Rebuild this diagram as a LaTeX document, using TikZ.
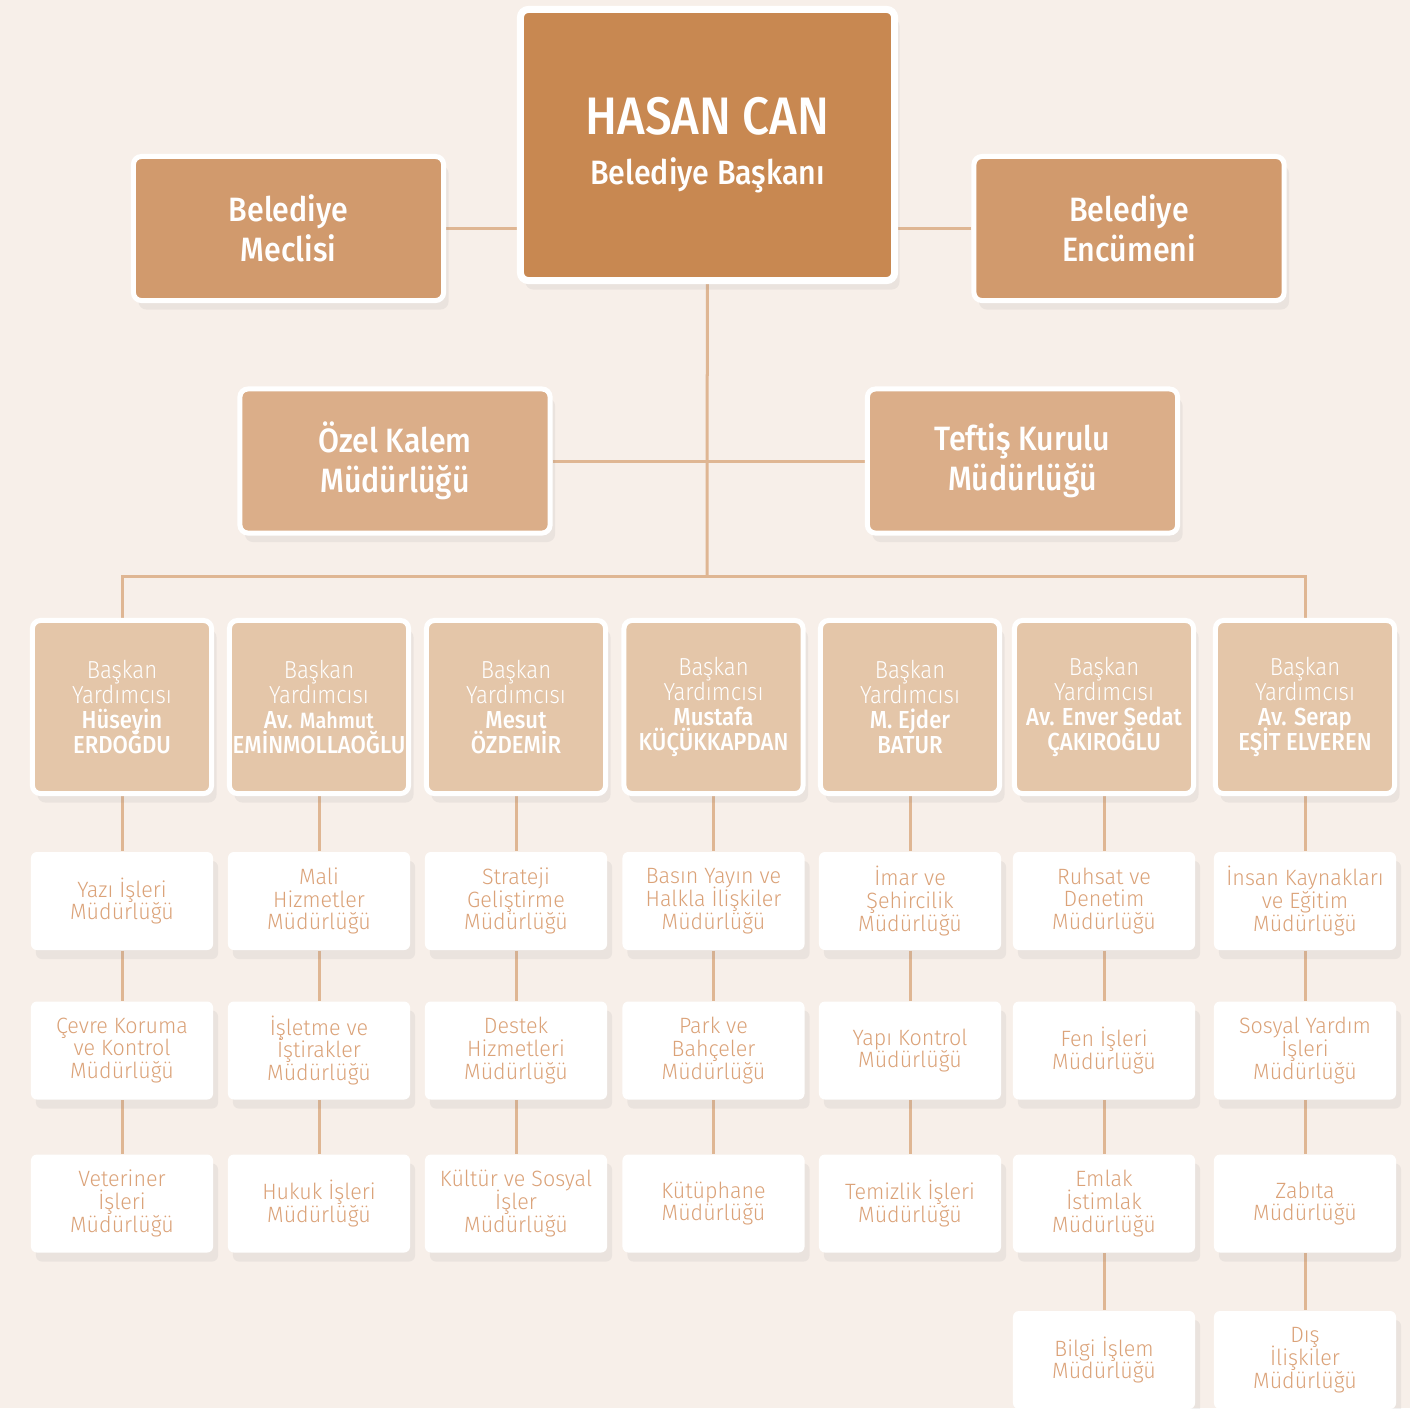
\documentclass[tikz,border=0pt]{standalone}
\usepackage{fontspec}
\setmainfont{Fira Sans}[FakeStretch=0.9,BoldFont={Fira Sans Medium}]
\newfontfamily\lightfont{Fira Sans Light}[FakeStretch=0.9]
\newfontfamily\unitfont{Fira Sans Light}[FakeStretch=0.97]
\usetikzlibrary{backgrounds,
	shadows}
\setlength{\lineskiplimit}{-10pt}

\definecolor{paper}{HTML}{F7EFE9}
\definecolor{headcol}{HTML}{C88851}
\definecolor{boardcol}{HTML}{D19A6D}
\definecolor{officecol}{HTML}{DBAE89}
\definecolor{deputycol}{HTML}{E4C6A9}
\definecolor{linkcol}{HTML}{DFB693}
\definecolor{unittext}{HTML}{DBA278}

\newcommand{\vpname}[1]{{\normalfont\bfseries #1}}

\begin{document}
\begin{tikzpicture}[x=0.01cm,y=-0.01cm]
      \tikzstyle{box}=[rectangle,rounded corners=0.8mm,align=center,inner sep=0pt,
        drop shadow={shadow xshift=0.5mm,shadow yshift=-0.9mm,opacity=0.10}]
      \tikzstyle{head}=[box,fill=headcol,draw=white,line width=0.7mm,text=white,
        minimum width=37.4mm,minimum height=27.1mm,font=\bfseries\fontsize{9.6}{14.2}\selectfont]
      \tikzstyle{board}=[box,fill=boardcol,draw=white,line width=0.5mm,text=white,
        minimum width=31mm,minimum height=14.4mm,font=\bfseries\fontsize{9.6}{11.4}\selectfont]
      \tikzstyle{office}=[board,fill=officecol]
      \tikzstyle{deputy}=[box,fill=deputycol,draw=white,line width=0.5mm,text=white,
        minimum width=17.9mm,minimum height=17.3mm,font=\lightfont\fontsize{7}{7.1}\selectfont]
      \tikzstyle{unit}=[box,fill=white,text=unittext,rounded corners=0.6mm,
        minimum width=18.2mm,minimum height=9.8mm,font=\unitfont\fontsize{6.3}{6.45}\selectfont]
      \tikzstyle{link}=[draw=linkcol,line width=0.3mm]
      \useasboundingbox (0,0) rectangle (1410,1408);
      % top
      \node[head] (mayor) at (707.5,145) {{\fontsize{15}{14.2}\selectfont HASAN CAN}\\Belediye Başkanı};
      \node[board] (council) at (288.5,228.5) {Belediye\\Meclisi};
      \node[board] (committee) at (1129,228.5) {Belediye\\Encümeni};
      \node[office] (privoffice) at (395,461) {Özel Kalem\\Müdürlüğü};
      \node[office] (inspection) at (1022.5,461) {Teftiş Kurulu\\Müdürlüğü};
      \coordinate (bus) at (707,576);
      % deputies
      \node[deputy] (vp_1) at (122,707) {Başkan\\Yardımcısı\\\vpname{Hüseyin}\\\vpname{ERDOĞDU}};
      \node[deputy] (vp_2) at (319,707) {Başkan\\Yardımcısı\\\vpname{Av. {\fontsize{6.3}{7.1}\selectfont Mahmut}}\\\vpname{EMİNMOLLAOĞLU}};
      \node[deputy] (vp_3) at (516,707) {Başkan\\Yardımcısı\\\vpname{Mesut}\\\vpname{ÖZDEMİR}};
      \node[deputy] (vp_4) at (713.5,707) {Başkan\\Yardımcısı\\\vpname{Mustafa}\\\vpname{KÜÇÜKKAPDAN}};
      \node[deputy] (vp_5) at (910,707) {Başkan\\Yardımcısı\\\vpname{M. Ejder}\\\vpname{BATUR}};
      \node[deputy] (vp_6) at (1104,707) {Başkan\\Yardımcısı\\\vpname{Av. Enver Sedat}\\\vpname{ÇAKIROĞLU}};
      \node[deputy] (vp_7) at (1305,707) {Başkan\\Yardımcısı\\\vpname{Av. Serap}\\\vpname{EŞİT ELVEREN}};
      % units
      \node[unit] (u_1a) at (122,901) {Yazı İşleri\\Müdürlüğü};
      \node[unit] (u_1b) at (122,1050.5) {Çevre Koruma\\ve Kontrol\\Müdürlüğü};
      \node[unit] (u_1c) at (122,1203.5) {Veteriner\\İşleri\\Müdürlüğü};
      \node[unit] (u_2a) at (319,901) {Mali\\Hizmetler\\Müdürlüğü};
      \node[unit] (u_2b) at (319,1050.5) {İşletme ve\\İştirakler\\Müdürlüğü};
      \node[unit] (u_2c) at (319,1203.5) {Hukuk İşleri\\Müdürlüğü};
      \node[unit] (u_3a) at (516,901) {Strateji\\Geliştirme\\Müdürlüğü};
      \node[unit] (u_3b) at (516,1050.5) {Destek\\Hizmetleri\\Müdürlüğü};
      \node[unit] (u_3c) at (516,1203.5) {Kültür ve Sosyal\\İşler\\Müdürlüğü};
      \node[unit] (u_4a) at (713.5,901) {Basın Yayın ve\\Halkla İlişkiler\\Müdürlüğü};
      \node[unit] (u_4b) at (713.5,1050.5) {Park ve\\Bahçeler\\Müdürlüğü};
      \node[unit] (u_4c) at (713.5,1203.5) {Kütüphane\\Müdürlüğü};
      \node[unit] (u_5a) at (910,901) {İmar ve\\Şehircilik\\Müdürlüğü};
      \node[unit] (u_5b) at (910,1050.5) {Yapı Kontrol\\Müdürlüğü};
      \node[unit] (u_5c) at (910,1203.5) {Temizlik İşleri\\Müdürlüğü};
      \node[unit] (u_6a) at (1104,901) {Ruhsat ve\\Denetim\\Müdürlüğü};
      \node[unit] (u_6b) at (1104,1050.5) {Fen İşleri\\Müdürlüğü};
      \node[unit] (u_6c) at (1104,1203.5) {Emlak\\İstimlak\\Müdürlüğü};
      \node[unit] (u_6d) at (1104,1360) {Bilgi İşlem\\Müdürlüğü};
      \node[unit] (u_7a) at (1305,901) {İnsan Kaynakları\\ve Eğitim\\Müdürlüğü};
      \node[unit] (u_7b) at (1305,1050.5) {Sosyal Yardım\\İşleri\\Müdürlüğü};
      \node[unit] (u_7c) at (1305,1203.5) {Zabıta\\Müdürlüğü};
      \node[unit] (u_7d) at (1305,1360) {Dış\\İlişkiler\\Müdürlüğü};
      \begin{pgfonlayer}{background}
        \fill[paper] (0,0) rectangle (1410,1408);
        \draw[link] (council.east) -- (council.east -| mayor.west);
        \draw[link] (committee.west) -- (committee.west -| mayor.east);
        \draw[link] (privoffice) -- (inspection);
        \draw[link] (mayor) -- (bus);
        \draw[link] (vp_1) |- (bus) -| (vp_7);
        \draw[link] (vp_1) -- (u_1a) -- (u_1b) -- (u_1c);
        \draw[link] (vp_2) -- (u_2a) -- (u_2b) -- (u_2c);
        \draw[link] (vp_3) -- (u_3a) -- (u_3b) -- (u_3c);
        \draw[link] (vp_4) -- (u_4a) -- (u_4b) -- (u_4c);
        \draw[link] (vp_5) -- (u_5a) -- (u_5b) -- (u_5c);
        \draw[link] (vp_6) -- (u_6a) -- (u_6b) -- (u_6c) -- (u_6d);
        \draw[link] (vp_7) -- (u_7a) -- (u_7b) -- (u_7c) -- (u_7d);
      \end{pgfonlayer}
\end{tikzpicture}
\end{document}
